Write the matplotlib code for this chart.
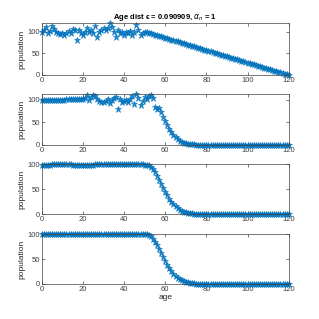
import numpy as np
import matplotlib
matplotlib.use('Agg')
import matplotlib.pyplot as plt

plt.rcParams['font.family'] = ['Liberation Sans Narrow', 'Liberation Sans', 'DejaVu Sans']
plt.rcParams['mathtext.fontset'] = 'dejavusans'

age = np.arange(0, 121)

# panel 1: noisy young ages, then linear decline
pop1 = [100, 104, 110, 97, 101, 112, 105, 99, 96, 94,
        97, 93, 96, 101, 97, 105, 104, 80, 104, 97,
        93, 100, 108, 98, 103, 96, 113, 88, 100, 103,
        107, 103, 109, 119, 110, 99, 88, 104, 97, 100,
        93, 98, 96, 101, 93, 98, 116, 104, 91, 96,
        100, 98.6, 97.1, 95.7, 94.3, 92.9, 91.4, 90.0, 88.6, 87.1,
        85.7, 84.3, 82.9, 81.4, 80.0, 78.6, 77.1, 75.7, 74.3, 72.9,
        71.4, 70.0, 68.6, 67.1, 65.7, 64.3, 62.9, 61.4, 60.0, 58.6,
        57.1, 55.7, 54.3, 52.9, 51.4, 50.0, 48.6, 47.1, 45.7, 44.3,
        42.9, 41.4, 40.0, 38.6, 37.1, 35.7, 34.3, 32.9, 31.4, 30.0,
        28.6, 27.1, 25.7, 24.3, 22.9, 21.4, 20.0, 18.6, 17.1, 15.7,
        14.3, 12.9, 11.4, 10.0, 8.6, 7.1, 5.7, 4.3, 2.9, 1.4,
        0.0]

pop2 = [100, 100, 100, 100, 100, 100, 100.2, 100.3, 100.4, 100.5,
        100.6, 100.8, 101, 101.2, 101.4, 101.6, 101.8, 102, 102.3, 102.6,
        103, 103.5, 110, 99, 106, 112, 108, 101, 97, 95,
        96, 98, 101, 94, 99, 104, 106, 80, 103, 96,
        97, 100, 95, 102, 109, 91, 113, 104, 88, 97,
        106, 102, 108, 112, 104, 84, 79, 82, 74, 62,
        53, 44, 36, 29, 23, 17.5, 13, 9.5, 7, 5,
        3.5, 2.5, 1.7, 1.2, 0.8, 0.5, 0.4, 0.3, 0.3, 0.2,
        0.2, 0.2, 0.1, 0.1, 0.1, 0.1, 0.1, 0.1, 0.1, 0.1,
        0.1, 0.1, 0.1, 0.1, 0.1, 0.1, 0.1, 0.1, 0.1, 0.1,
        0.1, 0.1, 0.1, 0.1, 0.1, 0.1, 0.1, 0.1, 0.1, 0.1,
        0.1, 0.1, 0.1, 0.1, 0.1, 0.1, 0.1, 0.1, 0.1, 0.1,
        0.1]

pop3 = [99.3, 99.4, 99.5, 99.6, 99.7, 99.8, 99.9, 100, 100, 100,
        100, 100, 100, 99.9, 99.8, 99.7, 99.6, 99.5, 99.4, 99.4,
        99.4, 99.4, 99.5, 99.5, 99.6, 99.7, 99.8, 99.9, 100, 100.1,
        100.2, 100.3, 100.4, 100.5, 100.6, 100.7, 100.8, 100.8, 100.8, 100.8,
        100.7, 100.6, 100.5, 100.4, 100.3, 100.2, 100.1, 100, 99.9, 99.8,
        99.7, 99.5, 98, 95, 90, 84, 77, 69, 61, 53,
        45, 38, 31, 25, 20, 15.5, 12, 9, 6.8, 5,
        3.7, 2.7, 2.0, 1.4, 1.0, 0.7, 0.5, 0.35, 0.25, 0.17,
        0.12, 0.1, 0.1, 0.1, 0.1, 0.1, 0.1, 0.1, 0.1, 0.1,
        0.1, 0.1, 0.1, 0.1, 0.1, 0.1, 0.1, 0.1, 0.1, 0.1,
        0.1, 0.1, 0.1, 0.1, 0.1, 0.1, 0.1, 0.1, 0.1, 0.1,
        0.1, 0.1, 0.1, 0.1, 0.1, 0.1, 0.1, 0.1, 0.1, 0.1,
        0.1]

pop4 = [100, 100, 100, 100, 100, 100, 100, 100, 100, 100,
        100, 100, 100, 100, 100, 100, 100, 100, 100, 100,
        100, 100, 100, 100, 100, 100, 100, 100, 100, 100,
        100, 100, 100, 100, 100, 100, 100, 100, 100, 100,
        100, 100, 100, 100, 100, 100, 100, 100, 100, 100,
        100, 99.8, 98.5, 95.5, 91, 85, 78, 70, 62, 54,
        46, 38.5, 31.5, 25.5, 20.5, 16, 12.5, 9.5, 7.2, 5.4,
        4.0, 3.0, 2.2, 1.6, 1.1, 0.8, 0.6, 0.4, 0.3, 0.2,
        0.15, 0.1, 0.1, 0.1, 0.1, 0.1, 0.1, 0.1, 0.1, 0.1,
        0.1, 0.1, 0.1, 0.1, 0.1, 0.1, 0.1, 0.1, 0.1, 0.1,
        0.1, 0.1, 0.1, 0.1, 0.1, 0.1, 0.1, 0.1, 0.1, 0.1,
        0.1, 0.1, 0.1, 0.1, 0.1, 0.1, 0.1, 0.1, 0.1, 0.1,
        0.1]

series = [pop1, pop2, pop3, pop4]
xticks = [0, 20, 40, 60, 80, 100, 120]
yticks = [0, 50, 100]

fig = plt.figure(figsize=(3.19, 3.19), dpi=100)
# axes boxes (left, bottom, width, height) in figure fraction
boxes = [(0.131, 0.765, 0.774, 0.162),
         (0.131, 0.546, 0.774, 0.159),
         (0.131, 0.329, 0.774, 0.157),
         (0.131, 0.110, 0.774, 0.156)]

for i, (pop, box) in enumerate(zip(series, boxes)):
    ax = fig.add_axes(box)
    ax.plot(age, pop, linestyle='none', marker='*', color='#0072BD',
            markersize=5, markeredgewidth=0.5, alpha=0.85, clip_on=False)
    ax.set_xlim(0, 120)
    ax.set_ylim(0, max(pop))
    ax.set_xticks(xticks)
    ax.set_yticks(yticks)
    ax.tick_params(direction='in', length=2, width=0.5, labelsize=5.5,
                   top=True, right=True, pad=1.5, colors='#404040')
    for s in ax.spines.values():
        s.set_linewidth(0.5)
        s.set_color('#404040')
    ax.set_ylabel('population', fontsize=6, labelpad=1, color='#262626')
    if i == 0:
        ax.set_title('Age dist \u03f5 = 0.090909, $\\alpha_n$ = 1',
                     fontsize=5.5, fontweight='bold', pad=3)
    if i == 3:
        ax.set_xlabel('age', fontsize=6, labelpad=1, color='#262626')

fig.savefig('out.png', dpi=100)
